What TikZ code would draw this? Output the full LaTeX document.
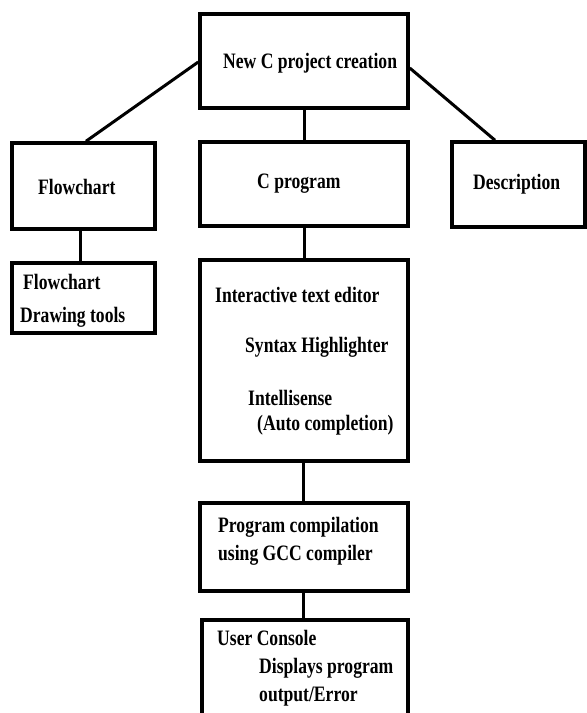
\documentclass[tikz,border=0pt]{standalone}
\usepackage{fontspec}
\setmainfont{Liberation Serif}[FakeStretch=0.8]
\begin{document}
\begin{tikzpicture}[x=1pt,y=-1pt,
  box/.style={draw,line width=3.5pt,rectangle,inner sep=0pt},
  conn/.style={line width=3pt},
  lbl/.style={anchor=base west,inner sep=0pt,font=\bfseries\fontsize{22}{26}\selectfont}]
\useasboundingbox (0,0) rectangle (587,713);
% boxes
\node[box,minimum width=208,minimum height=94] (top) at (304,61) {};
\node[box,minimum width=143,minimum height=86] (flow) at (83.5,186) {};
\node[box,minimum width=208,minimum height=84] (cprog) at (304,184) {};
\node[box,minimum width=133,minimum height=85] (desc) at (518.5,184.5) {};
\node[box,minimum width=143,minimum height=70] (tools) at (83.5,298) {};
\node[box,minimum width=208,minimum height=201] (editor) at (304,360.5) {};
\node[box,minimum width=208,minimum height=88] (comp) at (304,547) {};
\node[box,minimum width=206,minimum height=100] (cons) at (305,670) {};
% connectors
\draw[conn] ([yshift=-1pt]top.west) -- ([xshift=2.5pt]flow.north);
\draw[conn] ([yshift=-7pt]top.east) -- ([xshift=-23.5pt]desc.north);
\draw[conn] (top.south) -- (cprog.north);
\draw[conn] ([xshift=-3.5pt]flow.south) -- ([xshift=-3.5pt]tools.north);
\draw[conn] ([xshift=0.5pt]cprog.south) -- ([xshift=0.5pt]editor.north);
\draw[conn] ([xshift=-1pt]editor.south) -- ([xshift=-1pt]comp.north);
\draw[conn] ([xshift=-1pt]comp.south) -- ([xshift=-2pt]cons.north);
% labels
\node[lbl] (t1) at (223,68) {New C project creation};
\node[lbl] (t2) at (38,194) {Flowchart};
\node[lbl] (t3) at (257,188) {C program};
\node[lbl] (t4) at (473,189) {Description};
\node[lbl] (t5) at (23,289) {Flowchart};
\node[lbl] (t6) at (20,322) {Drawing tools};
\node[lbl] (t7) at (215,302) {Interactive text editor};
\node[lbl] (t8) at (245,352) {Syntax Highlighter};
\node[lbl] (t9) at (248,405) {Intellisense};
\node[lbl] (t10) at (257,430) {(Auto completion)};
\node[lbl] (t11) at (218,532) {Program compilation};
\node[lbl] (t12) at (218,560) {using GCC compiler};
\node[lbl] (t13) at (217,645) {User Console};
\node[lbl] (t14) at (259,673) {Displays program};
\node[lbl] (t15) at (259,701) {output/Error};
\end{tikzpicture}
\end{document}
